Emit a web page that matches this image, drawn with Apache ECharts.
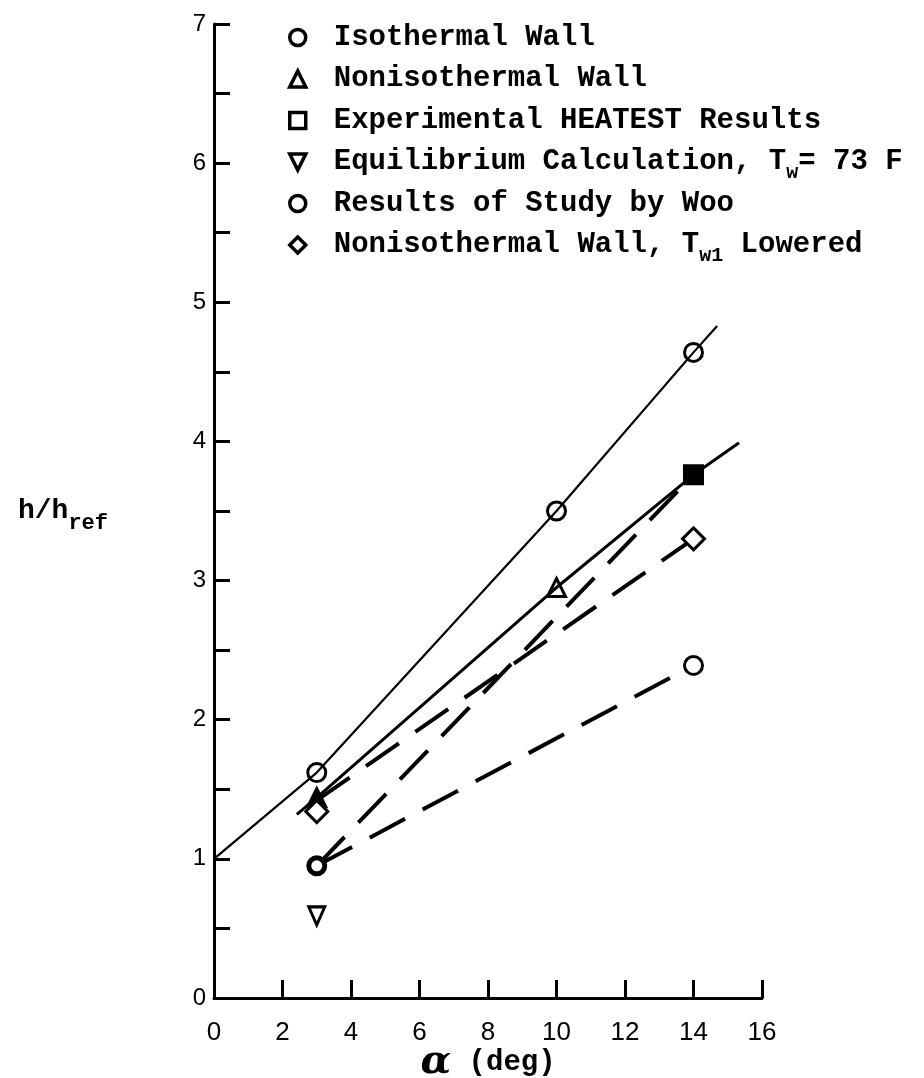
<!DOCTYPE html>
<html><head><meta charset="utf-8">
<script src="https://cdn.jsdelivr.net/npm/echarts@6/dist/echarts.min.js"></script>
<style>html,body{margin:0;padding:0;background:#fff}#c{width:924px;height:1078px}</style>
</head><body><div id="c"></div>
<script>
// ---- data ----
const xTicks = [0, 2, 4, 6, 8, 10, 12, 14, 16];
const yTicks = [0, 1, 2, 3, 4, 5, 6, 7];
const isothermalWall = [[3, 1.62], [10, 3.50], [14, 4.64]];
const nonisothermalWall = [[3, 1.44], [10, 2.95]];
const heatestResults = [[14, 3.76]];
const equilibriumCalc = [[3, 0.59]];
const wooResults = [[3, 0.95], [14, 2.39]];
const nonisoLowered = [[3, 1.34], [14, 3.30]];
const isothermalFit = [[0, 1.00], [3, 1.62], [10, 3.50], [14, 4.64], [14.69, 4.83]];
const nonisothermalFit = [[2.42, 1.32], [3, 1.44], [10, 2.95], [14, 3.76], [15.33, 3.99]];
const dashedA = [[3, 0.95], [14, 2.39]];
const dashedB = [[3, 0.95], [14, 3.76]];
const dashedC = [[3, 1.42], [14, 3.30]];
const seriesNames = [
  'Isothermal Wall',
  'Nonisothermal Wall',
  'Experimental HEATEST Results',
  'Equilibrium Calculation, Tw= 73 F',
  'Results of Study by Woo',
  'Nonisothermal Wall, Tw1 Lowered'
];
const legendRich = {
  'Equilibrium Calculation, Tw= 73 F': '{t|Equilibrium Calculation, T}{s|w}{t|= 73 F}',
  'Nonisothermal Wall, Tw1 Lowered': '{t|Nonisothermal Wall, T}{s|w1}{t| Lowered}'
};

// ---- styles ----
const MONO = '"Liberation Mono", "DejaVu Sans Mono", monospace';
const SANS = '"Liberation Sans", Arial, sans-serif';
const hollow = { color: 'rgba(0,0,0,0)', borderColor: '#000', borderWidth: 3, opacity: 1 };
const whiteFill = { color: '#fff', borderColor: '#000', borderWidth: 3, opacity: 1 };

const chart = echarts.init(document.getElementById('c'));
function lineSeries(data, width, dashed) {
  return {
    type: 'line', data: data, symbol: 'none', silent: true, z: 2,
    lineStyle: { color: '#000', width: width, type: dashed ? [40, 20] : 'solid', cap: 'butt' }
  };
}
function scatter(name, data, symbol, size, style, extra) {
  return {
    type: 'scatter', name: name, symbol: symbol, symbolSize: size, z: 5,
    itemStyle: style,
    data: data.map((p, i) => extra ? extra(p, i) : p)
  };
}
const option = {
  backgroundColor: '#fff',
  animation: false,
  grid: { left: 214, right: 162, top: 24, bottom: 80, containLabel: false, outerBoundsMode: 'none' },
  xAxis: {
    type: 'value', min: xTicks[0], max: xTicks[xTicks.length - 1], interval: 2,
    axisLine: { show: true, onZero: false, lineStyle: { color: '#000', width: 3 } },
    axisTick: { show: true, inside: true, length: 18, lineStyle: { color: '#000', width: 3 } },
    splitLine: { show: false },
    axisLabel: { color: '#000', fontFamily: SANS, fontSize: 26, margin: 22 },
    name: '{g|\u03b1}{m| (deg)}', nameLocation: 'middle', nameGap: 47, nameMoveOverlap: false,
    nameTextStyle: {
      rich: {
        g: { fontFamily: '"DejaVu Serif", serif', fontStyle: 'italic', fontWeight: 'bold', fontSize: 40, lineHeight: 36, color: '#000' },
        m: { fontFamily: MONO, fontWeight: 'bold', fontSize: 29, lineHeight: 36, color: '#000' }
      }
    }
  },
  yAxis: {
    type: 'value', min: yTicks[0], max: yTicks[yTicks.length - 1], interval: 0.5,
    axisLine: { show: true, onZero: false, lineStyle: { color: '#000', width: 3 } },
    axisTick: { show: true, inside: true, length: 16, lineStyle: { color: '#000', width: 3 } },
    splitLine: { show: false },
    axisLabel: {
      color: '#000', fontFamily: SANS, fontSize: 24, margin: 8,
      formatter: v => (yTicks.indexOf(v) >= 0 ? String(v) : '')
    },
    name: '{a|h/h}{b|ref}', nameLocation: 'middle', nameRotate: 0, nameGap: 106, nameMoveOverlap: false,
    nameTextStyle: {
      rich: {
        a: { fontFamily: MONO, fontWeight: 'bold', fontSize: 28, lineHeight: 44, color: '#000' },
        b: { fontFamily: MONO, fontWeight: 'bold', fontSize: 22, lineHeight: 20, padding: [24, 0, 0, 0], color: '#000' }
      }
    }
  },
  legend: {
    data: seriesNames, orient: 'vertical', left: 288, top: 17, padding: 0,
    itemGap: 0.5, itemWidth: 16, itemHeight: 16,
    itemStyle: { borderColor: '#000', borderWidth: 3.5 },
    formatter: name => legendRich[name] || ('{t|' + name + '}{s| }'),
    textStyle: {
      padding: [0, 0, 0, 23],
      rich: {
        t: { fontFamily: MONO, fontWeight: 'bold', fontSize: 29, lineHeight: 41, color: '#000' },
        s: { fontFamily: MONO, fontWeight: 'bold', fontSize: 20, lineHeight: 20, padding: [21, 0, 0, 0], color: '#000' }
      }
    }
  },
  series: [
    lineSeries(isothermalFit, 2.2, false),
    lineSeries(nonisothermalFit, 3, false),
    lineSeries(dashedA, 4, true),
    lineSeries(dashedB, 4, true),
    lineSeries(dashedC, 4, true),
    scatter(seriesNames[0], isothermalWall, 'circle', 18, hollow),
    scatter(seriesNames[1], nonisothermalWall, 'triangle', 18, hollow,
      (p, i) => i === 0 ? { value: p, itemStyle: { color: '#000' } } : p),
    scatter(seriesNames[2], heatestResults, 'rect', 18, hollow,
      (p) => ({ value: p, itemStyle: { color: '#000' } })),
    scatter(seriesNames[3], equilibriumCalc, 'path://M0,0 L10,0 L5,10 Z', [16, 18], whiteFill),
    scatter(seriesNames[4], wooResults, 'circle', 18, whiteFill,
      (p, i) => i === 0 ? { value: p, symbolSize: 16, itemStyle: { borderWidth: 5 } } : p),
    scatter(seriesNames[5], nonisoLowered, 'diamond', 22, whiteFill)
  ]
};
chart.setOption(option);
</script>
</body></html>
